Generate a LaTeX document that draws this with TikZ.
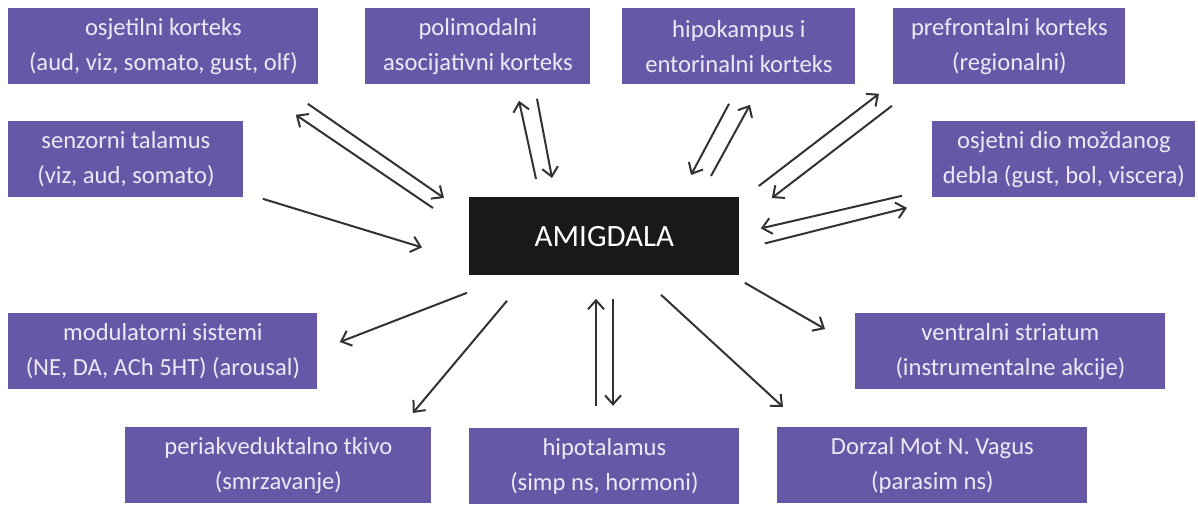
\documentclass[tikz,border=0pt]{standalone}
\usepackage{fontspec}
\setmainfont{Carlito}
\usetikzlibrary{positioning}
\usetikzlibrary{arrows.meta}

\definecolor{boxpurple}{RGB}{103,88,167}
\definecolor{boxtext}{RGB}{236,233,247}
\definecolor{corefill}{RGB}{27,24,24}
\definecolor{arrowgray}{RGB}{50,50,50}

\tikzset{
  box/.style={rectangle, fill=boxpurple, text=boxtext, minimum height=38pt,
    inner sep=0pt, align=center, anchor=north west,
    font=\fontsize{12.3}{17.5}\selectfont},
  core/.style={rectangle, fill=corefill, text=white, minimum width=135pt,
    minimum height=39pt, inner sep=0pt, anchor=north west,
    font=\fontsize{15.5}{19}\selectfont},
  arr/.style={draw=arrowgray, line width=1pt,
    -{Straight Barb[length=4.5pt,width=8pt,line width=1pt]}}
}

\begin{document}
\begin{tikzpicture}[x=0.5pt, y=-0.5pt]

    \useasboundingbox (0,0) rectangle (1198,504);

    % Nodes
    \node[core] (amyg) at (469,197) {AMIGDALA};

    \node[box, minimum width=155pt] (osj) at (8,8) {osjetilni korteks\\(aud, viz, somato, gust, olf)};
    \node[box, minimum width=112.5pt] (poli) at (365,8) {polimodalni\\asocijativni korteks};
    \node[box, minimum width=116.5pt] (hipo) at (622,8) {hipokampus i\\entorinalni korteks};
    \node[box, minimum width=116pt] (pref) at (893,8) {prefrontalni korteks\\(regionalni)};
    \node[box, minimum width=117.5pt] (senz) at (8,121) {senzorni talamus\\(viz, aud, somato)};
    \node[box, minimum width=131.5pt] (osjd) at (932,121) {osjetni dio moždanog\\debla (gust, bol, viscera)};
    \node[box, minimum width=154.5pt] (modu) at (8,313) {modulatorni sistemi\\(NE, DA, ACh 5HT) (arousal)};
    \node[box, minimum width=155pt] (vent) at (855,313) {ventralni striatum\\(instrumentalne akcije)};
    \node[box, minimum width=153pt] (peri) at (125,427) {periakveduktalno tkivo\\(smrzavanje)};
    \node[box, minimum width=135pt, below=76pt of amyg.south west, anchor=north west] (hipt) {hipotalamus\\(simp ns, hormoni)};
    \node[box, minimum width=155pt] (dorz) at (777,427) {Dorzal Mot N. Vagus\\(parasim ns)};

    % Arrows
    \draw[arr] ([shift={(-11,19)}]osj.south east) -- ([shift={(-25,1)}]amyg.north west);
    \draw[arr] ([shift={(-36,11)}]amyg.north west) -- ([shift={(-23,30)}]osj.south east);
    \draw[arr] ([shift={(19,1)}]senz.south east) -- ([shift={(-47,11)}]amyg.west);
    \draw[arr] ([shift={(67,-18)}]amyg.north west) -- ([shift={(154,16)}]poli.south west);
    \draw[arr] ([shift={(172,14)}]poli.south west) -- ([shift={(83,-19)}]amyg.north west);
    \draw[arr] ([shift={(107,19)}]hipo.south west) -- ([shift={(222,-22)}]amyg.north west);
    \draw[arr] ([shift={(242,-21)}]amyg.north west) -- ([shift={(128,20)}]hipo.south west);
    \draw[arr] ([shift={(19,-11)}]amyg.north east) -- ([shift={(-14,9)}]pref.south west);
    \draw[arr] ([shift={(-1,21)}]pref.south west) -- ([shift={(32,1)}]amyg.north east);
    \draw[arr] ([shift={(-30,-2)}]osjd.south west) -- ([shift={(21,-8)}]amyg.east);
    \draw[arr] ([shift={(25,7)}]amyg.east) -- ([shift={(-25,10)}]osjd.south west);
    \draw[arr] ([shift={(-2,17)}]amyg.south west) -- ([shift={(22,29)}]modu.north east);
    \draw[arr] ([shift={(38,25)}]amyg.south west) -- ([shift={(-19,-14)}]peri.north east);
    \draw[arr] ([shift={(127,-22)}]hipt.north west) -- ([shift={(127,23)}]amyg.south west);
    \draw[arr] ([shift={(144,23)}]amyg.south west) -- ([shift={(144,-22)}]hipt.north west);
    \draw[arr] ([shift={(192,19)}]amyg.south west) -- ([shift={(6,-20)}]dorz.north west);
    \draw[arr] ([shift={(5,7)}]amyg.south east) -- ([shift={(-30,16)}]vent.north west);

  \end{tikzpicture}
\end{document}
